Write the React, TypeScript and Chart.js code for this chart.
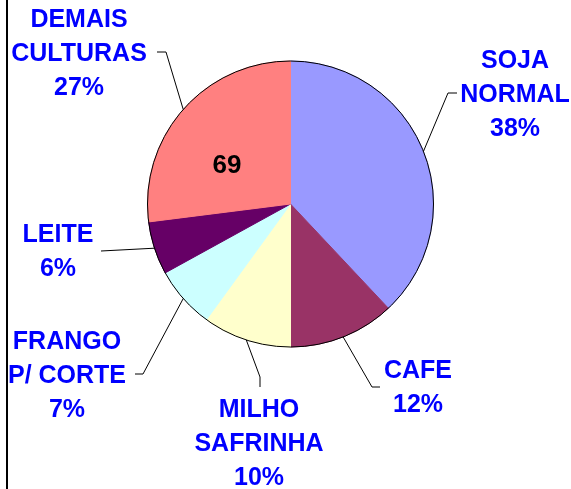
import React, { useEffect, useRef } from "react";
import { Chart, registerables } from "chart.js";

Chart.register(...registerables);

const categories = ["SOJA NORMAL", "CAFE", "MILHO SAFRINHA", "FRANGO P/ CORTE", "LEITE", "DEMAIS CULTURAS"];
const labelLines = [["SOJA", "NORMAL"], ["CAFE"], ["MILHO", "SAFRINHA"], ["FRANGO", "P/ CORTE"], ["LEITE"], ["DEMAIS", "CULTURAS"]];
const values = [38, 12, 10, 7, 6, 27];
const colors = ["#9999FF", "#993366", "#FFFFCC", "#CCFFFF", "#660066", "#FF8080"];
const innerText = "69";

// layout of external labels: [centerX, firstBaseline], leader elbow and end
const labelPos = [
  [515, 68],
  [418, 378],
  [259, 417],
  [67, 349],
  [58, 242],
  [79, 27],
];
const leaderPts = [
  [[448, 93], [457, 93]],
  [[372, 387], [380, 387]],
  [[260, 377], [260, 387]],
  [[143, 374], [135, 374]],
  [[101, 251], [101, 251]],
  [[166, 52], [157, 52]],
];

const FONT = 'bold 25px "Liberation Sans", Arial, sans-serif';

const overlay = {
  id: "overlay",
  afterDatasetsDraw(chart: any) {
    const ctx = chart.ctx;
    const meta = chart.getDatasetMeta(0);
    const arc0 = meta.data[0] as any;
    const cx = arc0.x, cy = arc0.y, r = arc0.outerRadius;
    ctx.save();
    ctx.beginPath();
    ctx.arc(cx, cy, r, 0, Math.PI * 2);
    ctx.strokeStyle = "#000";
    ctx.lineWidth = 1;
    ctx.stroke();
    ctx.fillStyle = "#000";
    ctx.fillRect(6, 0, 2, chart.height);
    const total = values.reduce((a, b) => a + b, 0);
    meta.data.forEach((el: any, i: number) => {
      const mid = (el.startAngle + el.endAngle) / 2;
      const sx = cx + Math.cos(mid) * r;
      const sy = cy + Math.sin(mid) * r;
      const [elb, end] = leaderPts[i];
      ctx.beginPath();
      ctx.moveTo(sx, sy);
      ctx.lineTo(elb[0], elb[1]);
      ctx.lineTo(end[0], end[1]);
      ctx.strokeStyle = "#000";
      ctx.lineWidth = 1;
      ctx.stroke();
      const lines = [...labelLines[i], Math.round((values[i] / total) * 100) + "%"];
      ctx.font = FONT;
      ctx.fillStyle = "#0000FF";
      ctx.textAlign = "center";
      ctx.textBaseline = "alphabetic";
      const [lx, ly] = labelPos[i];
      lines.forEach((t, k) => ctx.fillText(t, lx, ly + k * 34));
    });
    ctx.font = 'bold 26px "Liberation Sans", Arial, sans-serif';
    ctx.fillStyle = "#000";
    ctx.textAlign = "center";
    ctx.fillText(innerText, 227, 173);
    ctx.restore();
  },
};

export default function App() {
  const ref = useRef<HTMLCanvasElement>(null);
  useEffect(() => {
    if (!ref.current) return;
    const chart = new Chart(ref.current, {
      type: "pie",
      data: {
        labels: categories,
        datasets: [
          {
            data: values,
            backgroundColor: colors,
            borderColor: colors,
            borderWidth: 1,
          },
        ],
      },
      options: {
        responsive: false,
        animation: false,
        layout: { padding: { left: 147, right: 137, top: 60, bottom: 141 } },
        plugins: { legend: { display: false }, tooltip: { enabled: false } },
      },
      plugins: [overlay],
    });
    return () => chart.destroy();
  }, []);
  return (
    <div style={{ position: "absolute", left: 0, top: 0, width: 571, height: 489, background: "#fff" }}>
      <canvas ref={ref} width={571} height={489} style={{ width: 571, height: 489 }} />
    </div>
  );
}
